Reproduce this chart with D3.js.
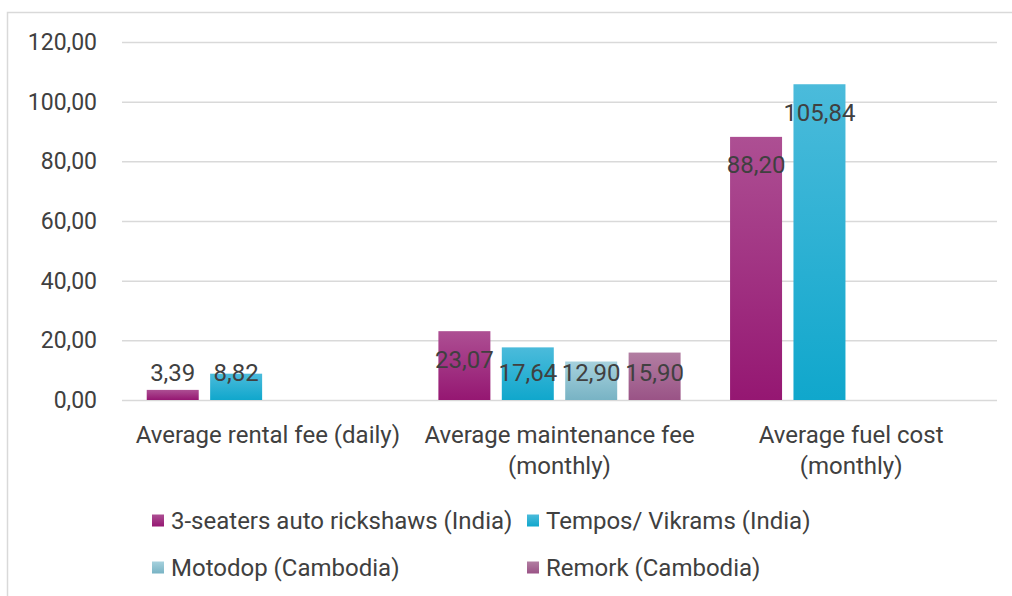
<!DOCTYPE html>
<html>
<head>
<meta charset="utf-8">
<script src="https://cdn.jsdelivr.net/npm/d3@7"></script>
<style>
  body { margin: 0; background: #fff; }
  text { font-family: Roboto, sans-serif; fill: #404040; }
</style>
</head>
<body>
<div id="chart"></div>
<script>
const categories = ["Average rental fee (daily)", "Average maintenance fee (monthly)", "Average fuel cost (monthly)"]
const categoryLines = [["Average rental fee (daily)"], ["Average maintenance fee", "(monthly)"], ["Average fuel cost", "(monthly)"]]
const seriesNames = ["3-seaters auto rickshaws (India)", "Tempos/ Vikrams (India)", "Motodop (Cambodia)", "Remork (Cambodia)"]
const rickshaws = [3.39, 23.07, 88.20]
const tempos = [8.82, 17.64, 105.84]
const motodop = [null, 12.90, null]
const remork = [null, 15.90, null]
const yTicks = [0, 20, 40, 60, 80, 100, 120]

const width = 1012
const height = 596
const margin = {top: 42, right: 15, bottom: 196, left: 122}
const fontSize = 24

const colors = [
  {top: "#ad4f93", bottom: "#951772"},
  {top: "#4bbbdb", bottom: "#10a7cc"},
  {top: "#a6d1dd", bottom: "#78b3c4"},
  {top: "#b27ea2", bottom: "#9a5386"}
]

const allSeries = [rickshaws, tempos, motodop, remork]

const svg = d3.select("div#chart").append("svg").attr("width", width).attr("height", height)

// chart border
svg.append("rect").attr("x", 7.5).attr("y", 12.5).attr("width", width).attr("height", height)
  .attr("fill", "none").attr("stroke", "#d9d9d9").attr("stroke-width", 1.5)

const defs = svg.append("defs")
colors.forEach((c, i) => {
  const g = defs.append("linearGradient").attr("id", "grad" + i)
    .attr("x1", 0).attr("y1", 0).attr("x2", 0).attr("y2", 1)
  g.append("stop").attr("offset", "0%").attr("stop-color", c.top)
  g.append("stop").attr("offset", "100%").attr("stop-color", c.bottom)
})

const x0 = d3.scaleBand().domain(categories).range([margin.left, width - margin.right])
const x1 = d3.scaleBand().domain(seriesNames).range([0, x0.bandwidth()]).paddingInner(0.18).paddingOuter(0.39)
const y = d3.scaleLinear().domain([0, 120]).range([height - margin.bottom, margin.top])

const locale = d3.formatLocale({decimal: ",", thousands: ".", grouping: [3], currency: ["", ""]})
const fmt = locale.format(".2f")

const yAxis = d3.axisLeft(y).tickValues(yTicks).tickFormat(fmt)
  .tickSize(-(width - margin.left - margin.right)).tickPadding(25)

const yAxisGroup = svg.append("g").attr("transform", `translate(${margin.left}, 0)`).call(yAxis)
yAxisGroup.select(".domain").remove()
yAxisGroup.selectAll(".tick line").attr("stroke", "#d9d9d9").attr("stroke-width", 1.5)
yAxisGroup.selectAll(".tick text").attr("font-size", 23).attr("font-family", "Roboto").attr("fill", "#404040")

// flatten data
const bars = []
allSeries.forEach((s, si) => {
  s.forEach((v, ci) => {
    if (v !== null) bars.push({series: si, cat: categories[ci], value: v})
  })
})

const barGroup = svg.append("g")
barGroup.selectAll("rect").data(bars).enter()
  .append("rect")
  .attr("x", d => x0(d.cat) + x1(seriesNames[d.series]))
  .attr("y", d => y(d.value))
  .attr("width", x1.bandwidth())
  .attr("height", d => y(0) - y(d.value))
  .attr("fill", d => `url(#grad${d.series})`)

barGroup.selectAll("text").data(bars).enter()
  .append("text")
  .attr("x", d => x0(d.cat) + x1(seriesNames[d.series]) + x1.bandwidth() / 2)
  .attr("y", d => Math.min(y(d.value) + 28, y(0) - 27))
  .attr("dy", "0.35em")
  .attr("text-anchor", "middle")
  .attr("font-size", fontSize)
  .text(d => fmt(d.value))

// category labels
const catGroup = svg.append("g")
categories.forEach((c, i) => {
  const t = catGroup.append("text")
    .attr("x", x0(c) + x0.bandwidth() / 2)
    .attr("y", y(0) + 43)
    .attr("text-anchor", "middle")
    .attr("font-size", fontSize)
  categoryLines[i].forEach((line, j) => {
    t.append("tspan").attr("x", x0(c) + x0.bandwidth() / 2).attr("dy", j === 0 ? 0 : 31).text(line)
  })
})

// legend
const legendX = [152, 527]
const legendY = [521, 568]
const legend = svg.append("g")
seriesNames.forEach((name, i) => {
  const lx = legendX[i % 2]
  const ly = legendY[Math.floor(i / 2)]
  legend.append("rect").attr("x", lx).attr("y", ly - 6.5).attr("width", 12).attr("height", 12)
    .attr("fill", `url(#grad${i})`)
  legend.append("text").attr("x", lx + 19).attr("y", ly).attr("dy", "0.35em")
    .attr("font-size", fontSize).text(name)
})
</script>
</body>
</html>
